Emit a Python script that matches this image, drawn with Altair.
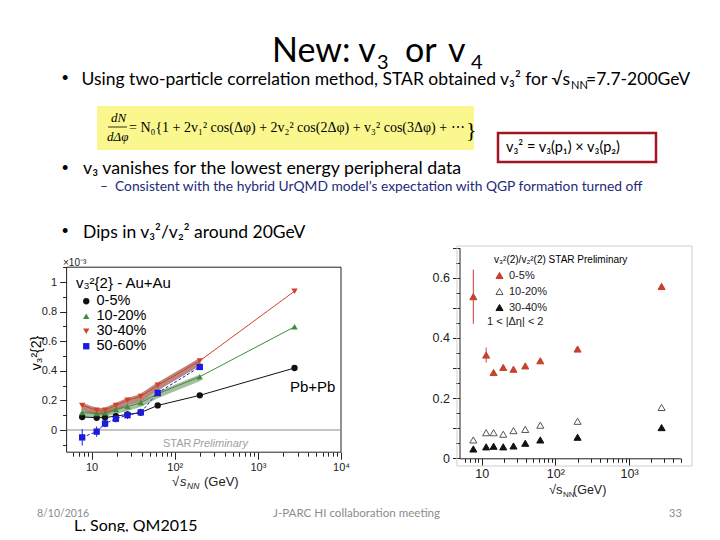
import altair as alt
import pandas as pd

# ---------------- data ----------------
energies = [7.7, 11.5, 14.5, 19.6, 27, 39, 62.4, 200, 2760]

cent_left = ["0-5%", "10-20%", "30-40%", "50-60%"]
v3sq_0_5 = [0.088, 0.083, 0.084, 0.094, 0.105, 0.118, 0.166, 0.234, 0.419]
v3sq_10_20 = [0.118, 0.111, 0.117, 0.138, 0.158, 0.185, 0.245, 0.360, 0.697]
v3sq_30_40 = [0.166, 0.133, 0.133, 0.166, 0.201, 0.227, 0.302, 0.467, 0.938]
v3sq_50_60 = [-0.050, -0.011, 0.043, 0.076, 0.100, 0.119, 0.251, 0.426]
v3sq_50_60_err = [0.055, 0.035, 0.025, 0.025, 0.025, 0.025, 0.020, 0.015]

cent_right = ["0-5%", "10-20%", "30-40%"]
ratio_0_5 = [0.537, 0.343, 0.285, 0.302, 0.296, 0.307, 0.324, 0.363, 0.571]
ratio_0_5_err = [0.090, 0.025, 0, 0, 0, 0, 0, 0, 0]
ratio_10_20 = [0.061, 0.085, 0.085, 0.080, 0.092, 0.096, 0.110, 0.123, 0.169]
ratio_30_40 = [0.031, 0.038, 0.040, 0.038, 0.041, 0.050, 0.061, 0.070, 0.102]

x_major = [10, 100, 1000, 10000]
x_major_labels = ["10", "10²", "10³", "10⁴"]

colors_left = ["#111111", "#3f8c3a", "#d3402b", "#1b1bdc"]
shapes_left = ["circle", "triangle-up", "triangle-down", "square"]
fill_right = ["#c8402e", "white", "#111111"]
stroke_right = ["#c8402e", "#555555", "#111111"]

# ---------------- tables ----------------
rows_l = []
for cent, vals in zip(cent_left, [v3sq_0_5, v3sq_10_20, v3sq_30_40, v3sq_50_60]):
    for i, v in enumerate(vals):
        err = v3sq_50_60_err[i] if cent == "50-60%" else 0.0
        rows_l.append({"energy": energies[i], "v": v, "cent": cent,
                       "lo": v - err, "hi": v + err, "band": v - 0.008})
dfl = pd.DataFrame(rows_l)

rows_r = []
for cent, vals in zip(cent_right, [ratio_0_5, ratio_10_20, ratio_30_40]):
    for i, v in enumerate(vals):
        err = ratio_0_5_err[i] if cent == "0-5%" else 0.0
        rows_r.append({"energy": energies[i], "v": v, "cent": cent,
                       "lo": v - err, "hi": v + err, "err": err})
dfr = pd.DataFrame(rows_r)

# ---------------- layout helpers ----------------
W, H = 704, 524
M = 8  # page margin


def p(v):
    return v - M


PF = "Liberation Sans"
SF = "Lato"
EF = "Liberation Serif"

LX = [66.6, 341.0]
LY = [452.2, 267.2]
RX = [459.5, 680.6]
RY = [458.3, 247.6]


def log_ticks(lo, hi):
    out = []
    for dec in [1, 10, 100, 1000]:
        for m in range(1, 10):
            v = m * dec
            if lo < v <= hi:
                out.append(v)
    if hi >= 10000:
        out.append(10000)
    return out


major_test = "indexof([" + ",".join(str(v) for v in x_major) + "], datum.value) >= 0"
lab_expr = ""
for v, lab in zip(x_major, x_major_labels):
    lab_expr += f"datum.value == {v} ? '{lab}' : "
lab_expr += "''"


def x_axis(offset, values, size, domain):
    return alt.Axis(orient="bottom", offset=offset, values=values, labelExpr=lab_expr,
                    tickSize={"condition": {"test": major_test, "value": 7}, "value": 4},
                    domain=domain, domainColor="#222", grid=False, title=None, labelFont=PF,
                    labelFontSize=size, labelColor="#222", labelOverlap=False, labelFlush=False,
                    labelPadding=2, tickColor="#222")


left_x = alt.Scale(type="log", domain=[5, 10000], range=[p(LX[0]), p(LX[1])], nice=False)
left_y = alt.Scale(domain=[-0.15, 1.1], range=[p(LY[0]), p(LY[1])], nice=False, zero=False)
right_x = alt.Scale(type="log", domain=[5, 5000], range=[p(RX[0]), p(RX[1])], nice=False)
right_y = alt.Scale(domain=[0, 0.7], range=[p(RY[0]), p(RY[1])], nice=False, zero=False)

ax_lx = x_axis(p(LY[0]) - H, log_ticks(5, 10000), 11, False)
ax_rx = x_axis(p(RY[0]) - H, log_ticks(5, 5000), 12.5, True)

ly_vals = [round(-0.1 + 0.1 * i, 1) for i in range(13)]
ax_ly = alt.Axis(orient="left", offset=-p(LX[0]), values=ly_vals,
                 labelExpr="round(datum.value*10) % 2 == 0 ? format(datum.value, '~g') : ''",
                 tickSize={"condition": {"test": "round(datum.value*10) % 2 == 0", "value": 7}, "value": 4},
                 domain=False, grid=False, title=None, labelFont=PF, labelFontSize=11,
                 labelColor="#222", labelOverlap=False, labelFlush=False, labelPadding=3, tickColor="#222")
ry_vals = [round(0.05 * i, 2) for i in range(15)]
ax_ry = alt.Axis(orient="left", offset=-p(RX[0]), values=ry_vals,
                 labelExpr="round(datum.value*20) % 4 == 0 ? format(datum.value, '~g') : ''",
                 tickSize={"condition": {"test": "round(datum.value*20) % 2 == 0", "value": 7}, "value": 4},
                 domain=True, domainColor="#222", grid=False, title=None, labelFont=PF, labelFontSize=12.5,
                 labelColor="#222", labelOverlap=False, labelFlush=False, labelPadding=3, tickColor="#222")

# ---------------- left chart ----------------
XL = alt.X("energy:Q", scale=left_x, axis=ax_lx)


def YL(f):
    return alt.Y(f, scale=left_y, axis=ax_ly)


frame_df = pd.DataFrame({"x0": [5], "x1": [10000], "y0": [-0.15], "y1": [1.1], "z": [0.0]})
frame_l = alt.Chart(frame_df).mark_rect(fillOpacity=0, stroke="#222", strokeWidth=1).encode(
    x=alt.X("x0:Q", scale=left_x, axis=ax_lx), x2="x1:Q", y=YL("y0:Q"), y2="y1:Q")
zero_l = alt.Chart(frame_df).mark_rule(color="#8a8a8a", strokeWidth=1).encode(
    x=alt.X("x0:Q", scale=left_x, axis=ax_lx), x2="x1:Q", y=YL("z:Q"))

bands = []
for cent, col, w in [("10-20%", "#8fae86", 6), ("30-40%", "#a8695d", 7)]:
    bands.append(alt.Chart(dfl).transform_filter(
        (alt.datum.cent == cent) & (alt.datum.energy <= 200)).mark_line(
        color=col, strokeWidth=w, opacity=0.8).encode(x=XL, y=YL("band:Q")))

lines = []
for cent, col in zip(cent_left, colors_left):
    kw = {"strokeDash": [3, 2]} if cent == "50-60%" else {}
    lines.append(alt.Chart(dfl).transform_filter(alt.datum.cent == cent).mark_line(
        color=col, strokeWidth=1, **kw).encode(x=XL, y=YL("v:Q")))

err_l = alt.Chart(dfl).transform_filter(alt.datum.cent == "50-60%").mark_rule(
    color="#1b1bdc", strokeWidth=1).encode(x=XL, y=YL("lo:Q"), y2="hi:Q")

leg_l = alt.Legend(orient="none", legendX=p(76), legendY=p(276), title="v₃²{2} - Au+Au",
                   titleFont=PF, titleFontSize=15, titleFontWeight="normal", titleColor="black",
                   titlePadding=3, labelFont=PF, labelFontSize=14.5, labelColor="black",
                   symbolSize=40, rowPadding=0, padding=0, symbolOffset=3, labelOffset=3)
pts_l = alt.Chart(dfl).mark_point(filled=True, opacity=1, size=40).encode(
    x=XL, y=YL("v:Q"),
    color=alt.Color("cent:N", scale=alt.Scale(domain=cent_left, range=colors_left), legend=leg_l),
    shape=alt.Shape("cent:N", scale=alt.Scale(domain=cent_left, range=shapes_left), legend=leg_l))

left_chart = alt.layer(frame_l, zero_l, *bands, *lines, err_l, pts_l)

# ---------------- right chart ----------------
XR = alt.X("energy:Q", scale=right_x, axis=ax_rx)


def YR(f):
    return alt.Y(f, scale=right_y, axis=ax_ry)


err_r = alt.Chart(dfr).transform_filter(alt.datum.err > 0).mark_rule(
    color="#c8402e", strokeWidth=1).encode(x=XR, y=YR("lo:Q"), y2="hi:Q")
leg_r = alt.Legend(orient="none", legendX=p(494), legendY=p(255),
                   title="v₃²(2)/v₂²(2) STAR Preliminary", titleFont=PF, titleFontSize=10,
                   titleFontWeight="normal", titleColor="black", titlePadding=5, labelFont=PF,
                   labelFontSize=11, labelColor="#222", symbolSize=50, rowPadding=4, padding=0,
                   symbolOffset=0, labelOffset=4, symbolStrokeWidth=1)
pts_r = alt.Chart(dfr).mark_point(opacity=1, size=50, strokeWidth=1).encode(
    x=XR, y=YR("v:Q"),
    fill=alt.Fill("cent:N", scale=alt.Scale(domain=cent_right, range=fill_right), legend=leg_r),
    stroke=alt.Stroke("cent:N", scale=alt.Scale(domain=cent_right, range=stroke_right), legend=leg_r),
    shape=alt.Shape("cent:N", scale=alt.Scale(domain=cent_right, range=["triangle-up"] * 3), legend=leg_r))
right_chart = alt.layer(err_r, pts_r)

# ---------------- slide decorations & text ----------------
one = pd.DataFrame({"a": [0]})


def box(x0, y0, x1, y1, **mk):
    return alt.Chart(one).mark_rect(**mk).encode(
        x=alt.value(p(x0)), x2=alt.value(p(x1)), y=alt.value(p(y0)), y2=alt.value(p(y1)))


yellow = box(97, 106, 474, 150, fill="#faf78f")
redbox = box(498, 133, 656, 162, fill="white", stroke="#a31621", strokeWidth=2.5)
border_r = box(457, 246, 692, 466, fillOpacity=0, stroke="#cfcfcf", strokeWidth=1)
frac = alt.Chart(one).mark_rule(color="black", strokeWidth=0.8).encode(
    x=alt.value(p(108)), x2=alt.value(p(127)), y=alt.value(p(127)))


def texts(rows, font, align="left", style="normal", angle=0, baseline="alphabetic"):
    df = pd.DataFrame(rows, columns=["t", "x", "y", "s", "c"])
    df["x"] = df["x"] - M
    df["y"] = df["y"] - M
    return alt.Chart(df).mark_text(align=align, baseline=baseline, font=font,
                                   fontStyle=style, angle=angle).encode(
        x=alt.X("x:Q", scale=None, axis=None), y=alt.Y("y:Q", scale=None, axis=None),
        text="t:N", size=alt.Size("s:Q", scale=None, legend=None),
        color=alt.Color("c:N", scale=None, legend=None))


K = "#000000"
NAVY = "#1e2a78"
GRAY = "#8c8c8c"
slide_left = texts([
    ("New: v", 272, 62, 34, K),
    ("3", 377, 69, 20, K),
    ("or", 405, 62, 34, K),
    ("v", 448, 62, 34, K),
    ("4", 471, 69, 20, K),
    ("NN", 571, 89, 11, K),
    ("=7.7-200GeV", 586, 85, 17.5, K),
    ("v₃ vanishes for the lowest energy peripheral data", 83, 174, 17.8, K),
    ("–", 100, 191, 13.8, NAVY),
    ("Consistent with the hybrid UrQMD model’s expectation with QGP formation turned off", 115, 191, 13.8, NAVY),
    ("Dips in v₃²/v₂² around 20GeV", 83, 238, 17.5, K),
    ("v₃² = v₃(p₁) × v₃(p₂)", 506, 152, 14.5, K),
    ("8/10/2016", 37, 517, 10.5, GRAY),
    ("L. Song, QM2015", 74, 530.5, 16, K),
    ("J-PARC HI collaboration meeting", 273, 517, 11.6, GRAY),
    ("33", 669, 517, 11, GRAY),
], SF)
slide_right = texts([
    ("Using two-particle correlation method, STAR obtained v₃² for √s", 570, 85, 17.5, K),
], SF, align="right")
bullets = texts([("•", 62, 84, 18, K), ("•", 62, 174, 18, K), ("•", 62, 237, 18, K)], PF)
eq_it = texts([("dN", 111, 122, 13, K), ("dΔφ", 107, 141, 13, K)], EF, style="italic")
eq_rm = texts([
    ("= N₀{1 + 2v₁² cos(Δφ) + 2v₂² cos(2Δφ) + v₃² cos(3Δφ) + ⋯", 129, 132, 14, K),
    ("}", 466, 137, 22, K),
], EF)
plot_txt = texts([
    ("×10⁻³", 63, 266, 10, "#222"),
    ("Pb+Pb", 290, 392, 15, K),
    ("STAR", 163, 447, 11, "#a0a0a0"),
    ("√", 172, 486, 13, "#222"),
    ("(GeV)", 204, 486, 13, "#222"),
    ("√", 549, 494, 13, "#222"),
    ("s", 556, 494, 13, "#222"),
    ("NN", 563, 497, 8, "#222"),
    ("(GeV)", 573, 494, 12.5, "#222"),
    ("1 < |Δη| < 2", 487, 325, 11, "#222"),
], PF)
plot_it = texts([
    ("Preliminary", 193, 447, 11, "#a0a0a0"),
    ("s", 180, 486, 13, "#222"),
    ("NN", 187, 489, 8.5, "#222"),
], PF, style="italic")
ytitle = texts([("v₃²{2}", 37, 353, 14, K)], PF, align="center", angle=270, baseline="middle")

chart = alt.layer(
    yellow, redbox, border_r, frac,
    left_chart, right_chart,
    slide_left, slide_right, bullets, eq_it, eq_rm, plot_txt, plot_it, ytitle,
).resolve_scale(
    x="independent", y="independent", color="independent", shape="independent",
    fill="independent", stroke="independent", size="independent",
).resolve_axis(x="independent", y="independent").resolve_legend(
    color="independent", shape="independent", fill="independent", stroke="independent",
).properties(
    width=W, height=H, autosize=alt.AutoSizeParams(type="none"), padding=0, background="white",
).configure_view(stroke="transparent")

chart.save("out.html", embed_options={"renderer": "svg", "actions": False})
